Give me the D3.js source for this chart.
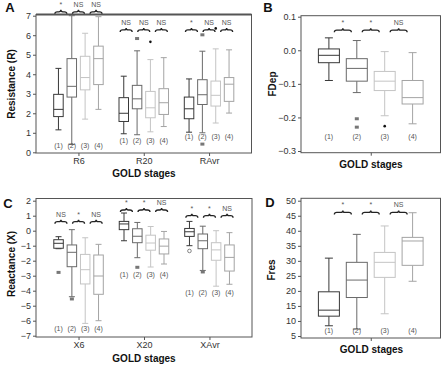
<!DOCTYPE html>
<html>
<head>
<meta charset="utf-8">
<script src="https://cdn.jsdelivr.net/npm/d3@7"></script>
<style>
  body { margin: 0; background: #fff; }
  svg { font-family: "Liberation Sans", Arial, sans-serif; }
</style>
</head>
<body>
<svg width="446" height="365"></svg>
<script>
// ---- data ----
const stages = ["(1)", "(2)", "(3)", "(4)"];
const stageColors = ["#383838", "#6a6a6a", "#c4c4c4", "#a4a4a4"];

// box stats: [min, q1, median, q3, max] per GOLD stage
const groupsR = ["R6", "R20", "RAvr"];
const statsR6 = [[1.15, 1.83, 2.2, 2.97, 4.3], [0.4, 2.83, 3.38, 4.8, 7.0], [1.7, 3.2, 3.83, 4.92, 6.1], [2.2, 3.47, 4.8, 5.44, 6.95]];
const statsR20 = [[0.95, 1.58, 2.0, 2.8, 3.9], [0.9, 2.23, 2.74, 3.43, 5.2], [1.05, 1.77, 2.28, 3.12, 4.75], [1.32, 1.94, 2.54, 3.26, 4.85]];
const statsRAvr = [[1.03, 1.72, 2.23, 2.83, 3.76], [1.0, 2.45, 2.95, 3.72, 5.18], [1.5, 2.37, 2.92, 3.65, 5.3], [2.01, 2.61, 3.49, 3.83, 5.25]];
const sigR = [["*", "NS", "NS"], ["NS", "NS", "NS"], ["*", "NS", "NS"]];
const braceLevelR = [7.2, 6.27, 6.27];
const labelLevelR = [0.36, 0.61, 0.82];
const outliersR = [
  {group: "R20", stage: 1, value: 5.83, shape: "square"},
  {group: "R20", stage: 2, value: 5.66, shape: "dot"},
  {group: "RAvr", stage: 1, value: 6.02, shape: "square"},
  {group: "RAvr", stage: 1, value: 0.42, shape: "square"},
  {group: "RAvr", stage: 2, value: 6.35, shape: "dot"}
];

const groupsX = ["X6", "X20", "XAvr"];
const statsX6 = [[-1.2, -1.17, -0.84, -0.6, -0.4], [-4.4, -2.4, -1.44, -0.95, 0.07], [-6.18, -3.55, -2.6, -1.58, -0.47], [-6.0, -4.24, -3.02, -1.62, -0.91]];
const statsX20 = [[-0.67, 0.07, 0.45, 0.62, 1.18], [-1.8, -0.8, -0.37, 0.13, 0.55], [-2.42, -1.3, -0.82, -0.3, 0.28], [-2.22, -1.55, -1.03, -0.55, -0.05]];
const statsXAvr = [[-1.0, -0.38, -0.07, 0.15, 0.62], [-2.65, -1.2, -0.67, -0.22, 0.3], [-3.7, -1.97, -1.28, -0.8, 0.0], [-3.57, -2.69, -1.78, -0.95, -0.13]];
const sigX = [["NS", "*", "NS"], ["*", "*", "NS"], ["*", "*", "NS"]];
const braceLevelX = [0.6, 1.38, 1.0];
const labelLevelX = [-6.53, -2.93, -4.13];
const outliersX = [
  {group: "X6", stage: 0, value: -2.78, shape: "square"},
  {group: "X6", stage: 1, value: -4.55, shape: "square"},
  {group: "X20", stage: 1, value: -2.44, shape: "square"},
  {group: "XAvr", stage: 0, value: -1.35, shape: "circle"},
  {group: "XAvr", stage: 1, value: -2.75, shape: "square"}
];

const statsFDep = [[-0.09, -0.037, -0.015, 0.004, 0.037], [-0.126, -0.092, -0.054, -0.025, 0.029], [-0.195, -0.12, -0.092, -0.063, -0.004], [-0.219, -0.16, -0.141, -0.09, -0.007]];
const sigFDep = ["*", "*", "NS"];
const outliersFDep = [
  {stage: 1, value: -0.204, shape: "square"},
  {stage: 1, value: -0.229, shape: "square"},
  {stage: 2, value: -0.226, shape: "dot"}
];

const statsFres = [[8.4, 11.6, 13.6, 19.7, 30.9], [7.3, 17.8, 23.6, 29.5, 38.8], [12.4, 24.5, 29.5, 32.8, 41.6], [23.2, 28.5, 36.6, 37.8, 46.0]];
const sigFres = ["*", "*", "NS"];

const svg = d3.select("svg");

// ---- helpers ----
const bracePath = (cx, w, y) => {
  const x1 = cx - w / 2, x2 = cx + w / 2, h = 2;
  return `M${x1},${y + h} Q${x1},${y} ${x1 + 2.5},${y} L${cx - 2},${y} Q${cx},${y} ${cx},${y - h}` +
         ` Q${cx},${y} ${cx + 2},${y} L${x2 - 2.5},${y} Q${x2},${y} ${x2},${y + h}`;
};

const drawFrame = (g, f, topWidth) => {
  g.append("rect")
    .attr("x", f.left).attr("y", f.top)
    .attr("width", f.right - f.left).attr("height", f.bottom - f.top)
    .attr("fill", "none").attr("stroke", "#555").attr("stroke-width", 1);
  if (topWidth) {
    g.append("line")
      .attr("x1", f.left).attr("x2", f.right).attr("y1", f.top).attr("y2", f.top)
      .attr("stroke", "#555").attr("stroke-width", topWidth);
  }
};

const drawYAxis = (g, f, y, ticks, fmt) => {
  g.append("g")
    .attr("transform", `translate(${f.left},0)`)
    .call(d3.axisLeft(y).tickValues(ticks).tickSize(3).tickPadding(2).tickFormat(fmt))
    .call(a => a.select(".domain").remove())
    .call(a => a.selectAll("line").attr("stroke", "#555"))
    .call(a => a.selectAll("text").attr("fill", "#333").attr("font-size", 9));
};

const drawBox = (g, cx, s, bw, cw, color) => {
  const [mn, q1, md, q3, mx] = s;
  const b = g.append("g").attr("stroke", color).attr("stroke-width", 1).attr("fill", "none");
  b.append("line").attr("x1", cx).attr("x2", cx).attr("y1", y0(mx)).attr("y2", y0(q3));
  b.append("line").attr("x1", cx).attr("x2", cx).attr("y1", y0(q1)).attr("y2", y0(mn));
  b.append("line").attr("x1", cx - cw / 2).attr("x2", cx + cw / 2).attr("y1", y0(mx)).attr("y2", y0(mx));
  b.append("line").attr("x1", cx - cw / 2).attr("x2", cx + cw / 2).attr("y1", y0(mn)).attr("y2", y0(mn));
  b.append("rect").attr("x", cx - bw / 2).attr("y", y0(q3))
    .attr("width", bw).attr("height", y0(q1) - y0(q3)).attr("fill", "#fff");
  b.append("line").attr("x1", cx - bw / 2).attr("x2", cx + bw / 2).attr("y1", y0(md)).attr("y2", y0(md));
};
let y0 = null; // current y scale used by drawBox

const drawOutlier = (g, cx, yy, shape) => {
  if (shape === "square") {
    g.append("rect").attr("x", cx - 2).attr("y", yy - 1.5).attr("width", 4).attr("height", 3).attr("fill", "#777");
  } else if (shape === "dot") {
    g.append("circle").attr("cx", cx).attr("cy", yy).attr("r", 1.3).attr("fill", "#111");
  } else {
    g.append("circle").attr("cx", cx).attr("cy", yy).attr("r", 1.8).attr("fill", "none").attr("stroke", "#666").attr("stroke-width", 0.8);
  }
};

const drawBrace = (g, cx, w, yy, label) => {
  g.append("path").attr("d", bracePath(cx, w, yy))
    .attr("fill", "none").attr("stroke", "#222").attr("stroke-width", 1.3);
  g.append("text").attr("x", cx).attr("y", yy - 5)
    .attr("text-anchor", "middle").attr("font-size", 7).attr("fill", "#555").text(label);
};

const stageLabel = (g, cx, yy, t) => {
  g.append("text").attr("x", cx).attr("y", yy).attr("dy", "0.35em")
    .attr("text-anchor", "middle").attr("font-size", 7).attr("fill", "#555").text(t);
};

const title = (x, y, t, size, rotate) => {
  svg.append("text")
    .attr("transform", `translate(${x},${y})` + (rotate ? " rotate(-90)" : ""))
    .attr("text-anchor", "middle").attr("dy", "0.35em")
    .attr("font-size", size).attr("font-weight", "bold").attr("fill", "#111").text(t);
};

// ---- grouped panels (A, C) ----
const groupedPanel = (f, yScale, yTicks, fmt, groups, statsList, sig, braceLevels, labelLevels, outliers, topWidth) => {
  const g = svg.append("g");
  y0 = yScale;
  const xGroup = d3.scalePoint().domain(groups).range([f.left, f.right]).padding(0.65);
  const xStage = d3.scalePoint().domain(stages).range([-20, 20]);

  drawFrame(g, f, topWidth);
  drawYAxis(g, f, yScale, yTicks, fmt);
  g.append("g")
    .attr("transform", `translate(0,${f.bottom})`)
    .call(d3.axisBottom(xGroup).tickSize(3).tickPadding(2))
    .call(a => a.select(".domain").remove())
    .call(a => a.selectAll("line").attr("stroke", "#555"))
    .call(a => a.selectAll("text").attr("fill", "#333").attr("font-size", 9));

  groups.forEach((grp, gi) => {
    const gc = xGroup(grp);
    statsList[gi].forEach((s, si) => {
      drawBox(g, gc + xStage(stages[si]), s, 9.5, 6, stageColors[si]);
      stageLabel(g, gc + xStage(stages[si]), yScale(labelLevels[gi]), stages[si]);
    });
    sig[gi].forEach((lab, bi) => {
      const mid = (xStage(stages[bi]) + xStage(stages[bi + 1])) / 2;
      drawBrace(g, gc + mid * 1.32, 12, yScale(braceLevels[gi]), lab);
    });
  });
  outliers.forEach(o => {
    drawOutlier(g, xGroup(o.group) + xStage(stages[o.stage]), yScale(o.value), o.shape);
  });
};

// ---- single panels (B, D) ----
const singlePanel = (f, yScale, yTicks, fmt, stats, sig, braceLevel, labelLevel, outliers) => {
  const g = svg.append("g");
  y0 = yScale;
  const xStage = d3.scalePoint().domain(stages).range([f.left, f.right]).padding(1);

  drawFrame(g, f);
  drawYAxis(g, f, yScale, yTicks, fmt);
  g.append("g")
    .attr("transform", `translate(0,${f.bottom})`)
    .call(d3.axisBottom(d3.scaleLinear().domain([0, 1]).range([f.left, f.right]))
      .tickValues([0.5]).tickSize(3).tickFormat(""))
    .call(a => a.select(".domain").remove())
    .call(a => a.selectAll("line").attr("stroke", "#555"));

  stats.forEach((s, si) => {
    drawBox(g, xStage(stages[si]), s, 21, 8, stageColors[si]);
    stageLabel(g, xStage(stages[si]), yScale(labelLevel), stages[si]);
  });
  sig.forEach((lab, bi) => {
    const mid = (xStage(stages[bi]) + xStage(stages[bi + 1])) / 2;
    drawBrace(g, mid, 17, yScale(braceLevel), lab);
  });
  outliers.forEach(o => drawOutlier(g, xStage(stages[o.stage]), yScale(o.value), o.shape));
};

// Panel A
const frameA = {left: 36, right: 251.5, top: 14.5, bottom: 153};
groupedPanel(frameA, d3.scaleLinear().domain([0, 7]).range([152.3, 15.7]), d3.range(0, 8), d3.format("d"),
  groupsR, [statsR6, statsR20, statsRAvr], sigR, braceLevelR, labelLevelR, outliersR, 2);

// Panel B
const frameB = {left: 301, right: 440.5, top: 15.7, bottom: 152.7};
singlePanel(frameB, d3.scaleLinear().domain([-0.3, 0.1]).range([151, 16.7]), [-0.3, -0.2, -0.1, 0, 0.1], d3.format(".1f"),
  statsFDep, sigFDep, 0.06, -0.257, outliersFDep);

// Panel C
const frameC = {left: 36, right: 252, top: 198.5, bottom: 337};
groupedPanel(frameC, d3.scaleLinear().domain([-7, 2]).range([335.7, 200.7]), d3.range(-7, 3), d3.format("d"),
  groupsX, [statsX6, statsX20, statsXAvr], sigX, braceLevelX, labelLevelX, outliersX, 0);

// Panel D
const frameD = {left: 301, right: 440.5, top: 198.3, bottom: 338};
singlePanel(frameD, d3.scaleLinear().domain([5, 50]).range([336, 200.7]), d3.range(5, 55, 5), d3.format("d"),
  statsFres, sigFres, 46.1, 6.76, []);

// titles
title(11, 84, "Resistance (R)", 10, true);
title(144, 173, "GOLD stages", 10);
title(272, 84, "FDep", 10, true);
title(371, 164.5, "GOLD stages", 10);
title(11, 264, "Reactance (X)", 10, true);
title(144, 358.5, "GOLD stages", 10);
title(271, 270, "Fres", 10, true);
title(371.5, 349.5, "GOLD stages", 10);

// panel letters
title(10, 7.5, "A", 13);
title(268, 7.5, "B", 13);
title(8, 203, "C", 13);
title(270, 202.5, "D", 13);
</script>
</body>
</html>
